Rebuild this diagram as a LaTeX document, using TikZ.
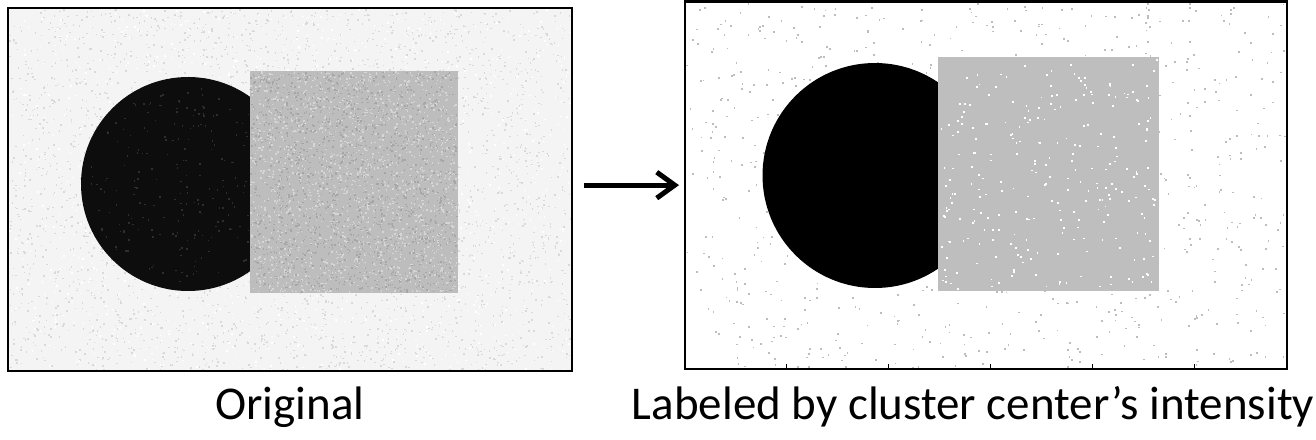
\documentclass[tikz,border=0pt]{standalone}
\usepackage{fontspec}
\setmainfont{Carlito}
\usetikzlibrary{arrows.meta,calc}
\definecolor{bgL}{HTML}{F4F4F4}
\definecolor{nzL}{HTML}{D9D9D9}
\definecolor{sqL}{HTML}{BDBDBD}
\definecolor{sqLlight}{HTML}{D6D6D6}
\definecolor{sqLdark}{HTML}{A6A6A6}
\definecolor{sqR}{HTML}{BEBEBE}
\definecolor{dotR}{HTML}{BDBDBD}
\begin{document}
\begin{tikzpicture}[x=1pt,y=-1pt,
  frame/.style={draw=black,line width=2.6pt,inner sep=0pt,outer sep=0pt},
  lab/.style={font=\fontsize{47}{51}\selectfont,inner sep=0pt,anchor=base},
  bigarrow/.style={line width=5pt,-{Straight Barb[length=18pt,width=26pt,line width=5pt]}}
]
\useasboundingbox (0,0) rectangle (1316,439);
\pgfmathsetseed{7}
% ---------- left image (original, noisy) ----------
\fill[bgL] (8,8) rectangle (572,371);
\foreach \i in {1,...,3200}{%
  \pgfmathsetmacro{\px}{9+561*rnd}\pgfmathsetmacro{\py}{9+360*rnd}%
  \fill[nzL] (\px,\py) rectangle ++(1.5,1.5);}
\foreach \i in {1,...,1200}{%
  \pgfmathsetmacro{\px}{9+561*rnd}\pgfmathsetmacro{\py}{9+360*rnd}%
  \fill[white] (\px,\py) rectangle ++(1.5,1.5);}
\fill[black!95] (188,184) circle[radius=107pt];
\foreach \i in {1,...,250}{%
  \pgfmathsetmacro{\aa}{360*rnd}\pgfmathsetmacro{\rr}{100*sqrt(rnd)}%
  \fill[black!82] ($(188,184)+(\aa:\rr pt)$) rectangle ++(1.5,1.5);}
\fill[sqL] (250,71) rectangle (458,293);
\foreach \i in {1,...,1800}{%
  \pgfmathsetmacro{\px}{250+206.5*rnd}\pgfmathsetmacro{\py}{71+220.5*rnd}%
  \fill[sqLlight] (\px,\py) rectangle ++(1.5,1.5);}
\foreach \i in {1,...,1500}{%
  \pgfmathsetmacro{\px}{250+206.5*rnd}\pgfmathsetmacro{\py}{71+220.5*rnd}%
  \fill[sqLdark] (\px,\py) rectangle ++(1.5,1.5);}
\node[frame,minimum width=564pt,minimum height=363pt] (L) at (290,189.5) {};
% ---------- right image (labelled) ----------
\foreach \i in {1,...,900}{%
  \pgfmathsetmacro{\px}{686+598*rnd}\pgfmathsetmacro{\py}{3+364*rnd}%
  \fill[dotR] (\px,\py) rectangle ++(1.7,1.7);}
\begin{scope}
  \clip (680,0) rectangle (938,370);
  \fill[black] (875,175.5) circle[radius=112.5pt];
\end{scope}
\fill[sqR] (938,57) rectangle (1159,291);
\foreach \i in {1,...,260}{%
  \pgfmathsetmacro{\px}{940+217*rnd}\pgfmathsetmacro{\py}{59+230*rnd}%
  \fill[white] (\px,\py) rectangle ++(1.8,1.8);}
\node[frame,minimum width=602pt,minimum height=367.7pt] (R) at (685,1.3) [anchor=north west] {};
\foreach \tx in {786,888,990,1092,1194}{\draw[line width=1pt] (\tx,369) -- (\tx,364);}
% ---------- arrow ----------
\draw[bigarrow,shorten <=12pt,shorten >=6pt] (L.east |- R.west) -- (R.west);
% ---------- labels ----------
\node[lab] (tL) at (290,419) {Original};
\node[lab] (tR) at (973,419) {Labeled by cluster center’s intensity};
\end{tikzpicture}
\end{document}
